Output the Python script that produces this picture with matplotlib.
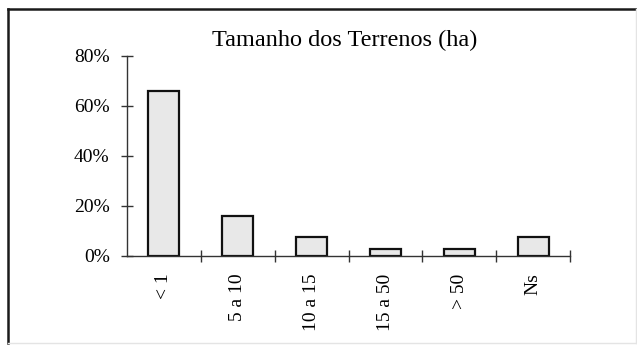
import matplotlib
matplotlib.use("Agg")
import matplotlib.pyplot as plt
import numpy as np
from matplotlib.lines import Line2D
from matplotlib.ticker import FixedLocator, PercentFormatter

# terrain size classes and share of holdings (%)
categorias = ['< 1', '5 a 10', '10 a 15', '15 a 50', '> 50', 'Ns']
percentagens = [66, 16, 7.5, 3, 3, 7.5]
yticks = [0, 20, 40, 60, 80]
titulo = 'Tamanho dos Terrenos (ha)'

plt.rcParams['font.family'] = ['Liberation Serif', 'DejaVu Serif']

W, H = 637, 347
fig = plt.figure(figsize=(W / 100, H / 100), dpi=100)
fig.patch.set_facecolor('white')

ax = fig.add_axes([127 / W, 1 - 256 / H, (570 - 127) / W, (256 - 56) / H])

x = np.arange(len(categorias))
ax.bar(x, percentagens, width=0.42, color='#e8e8e8', edgecolor='#111111', linewidth=1.6)

ax.set_xlim(-0.5, len(categorias) - 0.5)
ax.set_ylim(0, 80)
ax.set_yticks(yticks)
ax.yaxis.set_major_formatter(PercentFormatter(decimals=0))

ax.set_xticks(x)
ax.set_xticklabels(categorias, rotation=90, va='top', ha='center')
ax.xaxis.set_minor_locator(FixedLocator(np.arange(0.5, len(categorias), 1.0)))
ax.tick_params(axis='x', which='major', length=0, pad=12.5, labelsize=14)
ax.tick_params(axis='x', which='minor', direction='inout', length=9, width=1, color='#333333')
ax.tick_params(axis='y', direction='inout', length=9, width=1, color='#333333', labelsize=14, pad=8)

for side in ['top', 'right']:
    ax.spines[side].set_visible(False)
for side in ['left', 'bottom']:
    ax.spines[side].set_color('#333333')
    ax.spines[side].set_linewidth(1)
ax.set_facecolor('none')

fig.text(345 / W, 1 - 40 / H, titulo, ha='center', va='center', fontsize=17.5)

# outer frame: strong left/top, faint right/bottom
def fx(px):
    return px / W

def fy(py):
    return 1 - py / H

fig.add_artist(Line2D([fx(8), fx(8)], [fy(9), fy(343)], color='#1a1a1a', linewidth=1.8))
fig.add_artist(Line2D([fx(8), fx(636)], [fy(9), fy(9)], color='#1a1a1a', linewidth=1.8))
fig.add_artist(Line2D([fx(636), fx(636)], [fy(9), fy(343)], color='#e4e4e4', linewidth=1))
fig.add_artist(Line2D([fx(8), fx(636)], [fy(343), fy(343)], color='#e4e4e4', linewidth=1))

fig.savefig('out.png', dpi=100)
